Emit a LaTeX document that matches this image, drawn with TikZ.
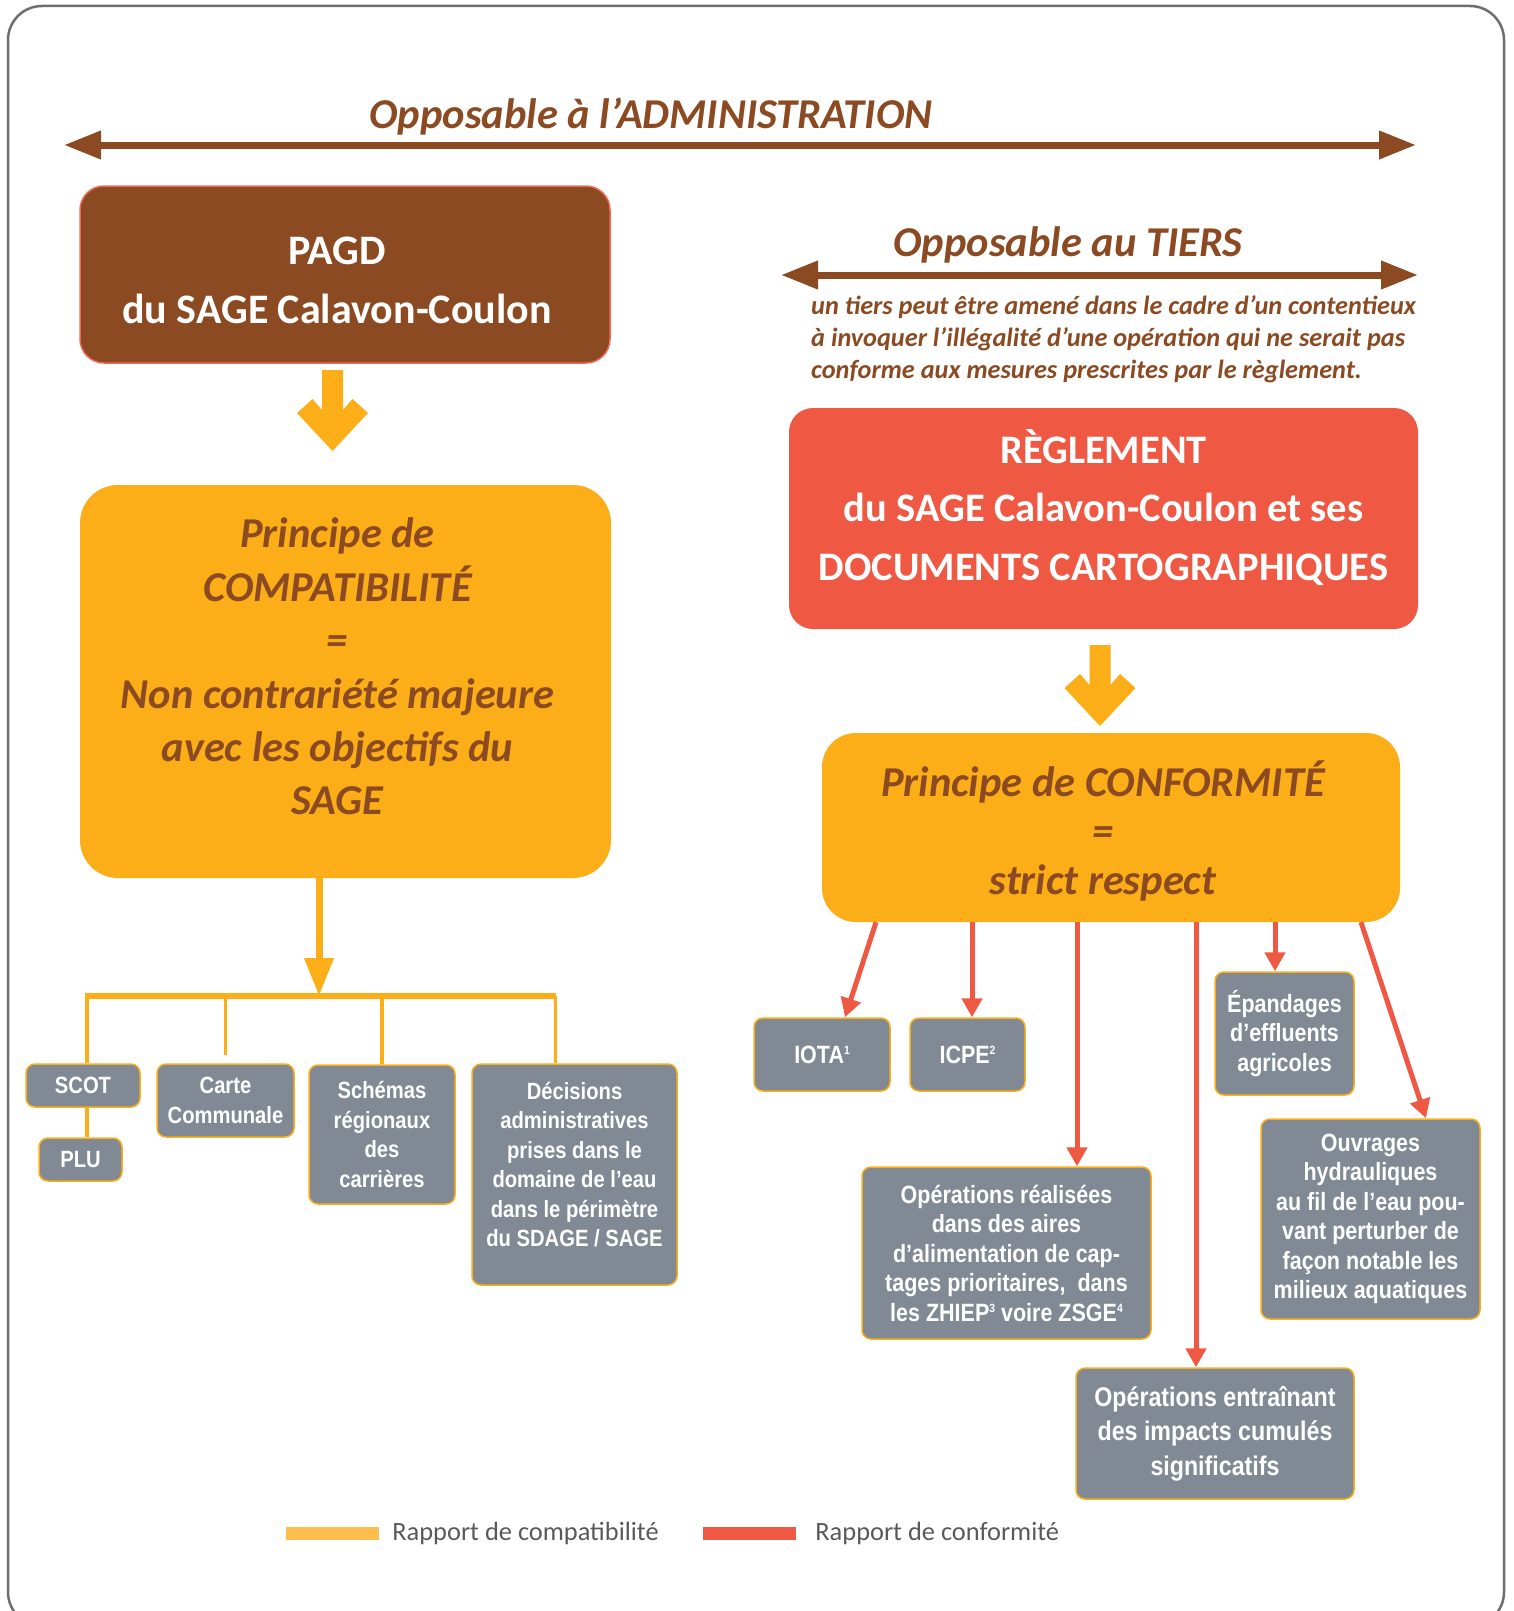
\documentclass[tikz,border=0pt]{standalone}
\usepackage{fontspec}
\setmainfont{Carlito}
\newfontfamily\condfont[FakeStretch=0.86]{Liberation Sans}
\usepackage{tikz}
\usetikzlibrary{arrows.meta,positioning}

\definecolor{sagebrown}{HTML}{8B4A22}
\definecolor{sageorange}{HTML}{FBAE17}
\definecolor{sagered}{HTML}{EF5843}
\definecolor{boxgrey}{HTML}{818A94}
\definecolor{framegrey}{HTML}{6D6E71}
\definecolor{legyellow}{HTML}{FDBE4E}
\definecolor{legtext}{HTML}{58595B}

\newcommand{\expo}[1]{\raisebox{8.5pt}{\fontsize{12}{12}\selectfont #1}}
\newcommand{\padr}{\rule{16pt}{0pt}}

\begin{document}
\begin{tikzpicture}[x=1pt,y=-1pt,
  greybox/.style={fill=boxgrey, draw=sageorange, line width=1.5pt, rounded corners=9pt, text=white, align=center, inner sep=0pt, font=\condfont\bfseries\fontsize{23.5}{29.5}\selectfont},
  greyboxr/.style={greybox, font=\condfont\bfseries\fontsize{25}{29.5}\selectfont},
  bigbox/.style={rounded corners=24pt, align=center, inner sep=0pt},
  titletext/.style={text=sagebrown, inner sep=0pt, font=\bfseries\itshape\fontsize{42.5}{50}\selectfont},
  brownarrow/.style={sagebrown, line width=7pt, {Triangle[length=37pt,width=27pt]}-{Triangle[length=37pt,width=27pt]}},
  yellowline/.style={sageorange, line width=3.5pt},
  redarrow/.style={sagered, line width=5pt, -{Triangle[length=19pt,width=20pt]}},
  fatarrow/.pic={\fill[sageorange] (-10.5,0) -- (10.5,0) -- (10.5,40) -- (20,29) -- (35.5,43) -- (0,81) -- (-35.5,43) -- (-20,29) -- (-10.5,40) -- cycle;}
]
\useasboundingbox (0,0) rectangle (1514,1611);
\clip (0,0) rectangle (1514,1611);
\draw[framegrey, line width=2.5pt, rounded corners=34pt] (8,6) rectangle (1504,1626);

% opposable a l'administration
\node[titletext] (admtitle) at (651,117) {Opposable à l’ADMINISTRATION};
\coordinate (adml) at (64,145);
\coordinate (admr) at (1416,145);
\draw[brownarrow] (adml) -- (admr);

% PAGD -> compatibilite
\node[bigbox, fill=sagebrown, draw=sagered!90, line width=1.5pt, text=white, minimum width=530pt, minimum height=177pt, text height=97.6pt, font=\bfseries\fontsize{42}{59}\selectfont] (pagd) at (345,274.5) {PAGD\padr\\du SAGE Calavon-Coulon\padr};
\pic at (332.5,370) {fatarrow};
\node[bigbox, fill=sageorange, text=sagebrown, rounded corners=38pt, minimum width=531pt, minimum height=393pt, text depth=30pt, font=\bfseries\itshape\fontsize{42.5}{53.4}\selectfont] (compat) at (345.5,681.5) {Principe de\padr\\COMPATIBILITÉ\padr\\=\padr\\Non contrariété majeure\padr\\avec les objectifs du\padr\\SAGE\padr};

\node[greybox, minimum width=114pt, minimum height=43pt] (scot) at (83,1085.5) {SCOT};
\node[greybox, minimum width=83pt, minimum height=43pt] (plu) at (80.5,1159.5) {PLU};
\node[greybox, minimum width=137pt, minimum height=73pt] (carte) at (225.5,1100.5) {Carte\\Communale};
\node[greybox, minimum width=146pt, minimum height=139pt] (schem) at (382,1134.5) {Schémas\\régionaux\\des\\carrières};
\node[greybox, minimum width=205pt, minimum height=221pt, text depth=20pt] (dec) at (574.5,1174.5) {Décisions\\administratives\\prises dans le\\domaine de l’eau\\dans le périmètre\\du SDAGE / SAGE};

\coordinate (hub) at (319,996);
\draw[sageorange, line width=7pt, -{Triangle[length=38pt,width=28pt]}] ([xshift=-26.5pt]compat.south) -- (hub);
\draw[sageorange, line width=6pt] ([xshift=2pt]scot.north |- hub) -- ([xshift=-19pt]dec.north |- hub);
\draw[yellowline] ([xshift=4pt]scot.north |- hub) -- ([xshift=4pt]scot.north);
\draw[yellowline] ([xshift=4pt]scot.south) -- ([xshift=4pt]scot.south |- plu.north);
\draw[yellowline, shorten >=8pt] (carte.north |- hub) -- (carte.north);
\draw[yellowline] (schem.north |- hub) -- (schem.north);
\draw[yellowline] ([xshift=-19pt]dec.north |- hub) -- ([xshift=-19pt]dec.north);

% opposable au tiers
\node[titletext] (tiertitle) at (1068,245) {Opposable au TIERS};
\coordinate (tierl) at (781,275);
\coordinate (tierr) at (1418,275);
\draw[brownarrow] (tierl) -- (tierr);
\node[anchor=west, align=left, text=sagebrown, inner sep=0pt, font=\bfseries\itshape\fontsize{26.3}{32}\selectfont] (tiertext) at (811,339) {un tiers peut être amené dans le cadre d’un contentieux\\à invoquer l’illégalité d’une opération qui ne serait pas\\conforme aux mesures prescrites par le règlement.};

% reglement -> conformite
\node[bigbox, fill=sagered, text=white, minimum width=629pt, minimum height=221pt, text depth=28pt, font=\bfseries\fontsize{40.5}{58.5}\selectfont] (regl) at (1103.5,518.5) {RÈGLEMENT\\du SAGE Calavon-Coulon et ses\\DOCUMENTS CARTOGRAPHIQUES};
\pic at (1100,645) {fatarrow};
\node[bigbox, fill=sageorange, text=sagebrown, rounded corners=34pt, minimum width=578pt, minimum height=189pt, text height=140.6pt, font=\bfseries\itshape\fontsize{42.5}{49}\selectfont] (conf) at (1111,827.5) {Principe de CONFORMITÉ\padr\\=\padr\\strict respect\padr};

\node[greyboxr, minimum width=136pt, minimum height=73pt] (iota) at (822,1054.5) {IOTA\expo{1}};
\node[greyboxr, minimum width=115pt, minimum height=73pt] (icpe) at (967.5,1054.5) {ICPE\expo{2}};
\node[greyboxr, minimum width=139pt, minimum height=123pt] (epand) at (1284.5,1033.5) {Épandages\\d’effluents\\agricoles};
\node[greyboxr, minimum width=219pt, minimum height=200pt] (ouvr) at (1370.5,1219) {Ouvrages\\hydrauliques\\au fil de l’eau pou-\\vant perturber de\\façon notable les\\milieux aquatiques};
\node[greyboxr, minimum width=289pt, minimum height=172pt] (opreal) at (1006.5,1253) {Opérations réalisées\\dans des aires\\d’alimentation de cap-\\tages prioritaires,~ dans\\les ZHIEP\expo{3} voire ZSGE\expo{4}};
\node[greybox, minimum width=278pt, minimum height=131pt, font=\condfont\bfseries\fontsize{27}{34.5}\selectfont] (opimp) at (1215,1433.5) {Opérations entraînant\\des impacts cumulés\\significatifs};

\draw[redarrow] ([xshift=-235pt]conf.south) -- ([xshift=23pt]iota.north);
\draw[redarrow] ([xshift=-139pt]conf.south) -- ([xshift=-139pt]conf.south |- icpe.north);
\draw[redarrow] ([xshift=-34pt]conf.south) -- ([xshift=-34pt]conf.south |- opreal.north);
\draw[redarrow] ([xshift=85pt]conf.south) -- ([xshift=85pt]conf.south |- opimp.north);
\draw[redarrow] ([xshift=164pt]conf.south) -- ([xshift=164pt]conf.south |- epand.north);
\draw[redarrow] ([xshift=250pt]conf.south) -- ([xshift=55.5pt]ouvr.north);

% legende
\node[fill=legyellow, minimum width=93pt, minimum height=13pt, inner sep=0pt] (legcomp) at (332.5,1533.5) {};
\node[right=13pt of legcomp, text=legtext, inner sep=0pt, font=\fontsize{26.4}{30}\selectfont] (legcomptext) {Rapport de compatibilité};
\node[fill=sagered, minimum width=93pt, minimum height=13pt, inner sep=0pt] (legconf) at (749.5,1533.5) {};
\node[right=19pt of legconf, text=legtext, inner sep=0pt, font=\fontsize{26.4}{30}\selectfont] (legconftext) {Rapport de conformité};
\end{tikzpicture}
\end{document}
